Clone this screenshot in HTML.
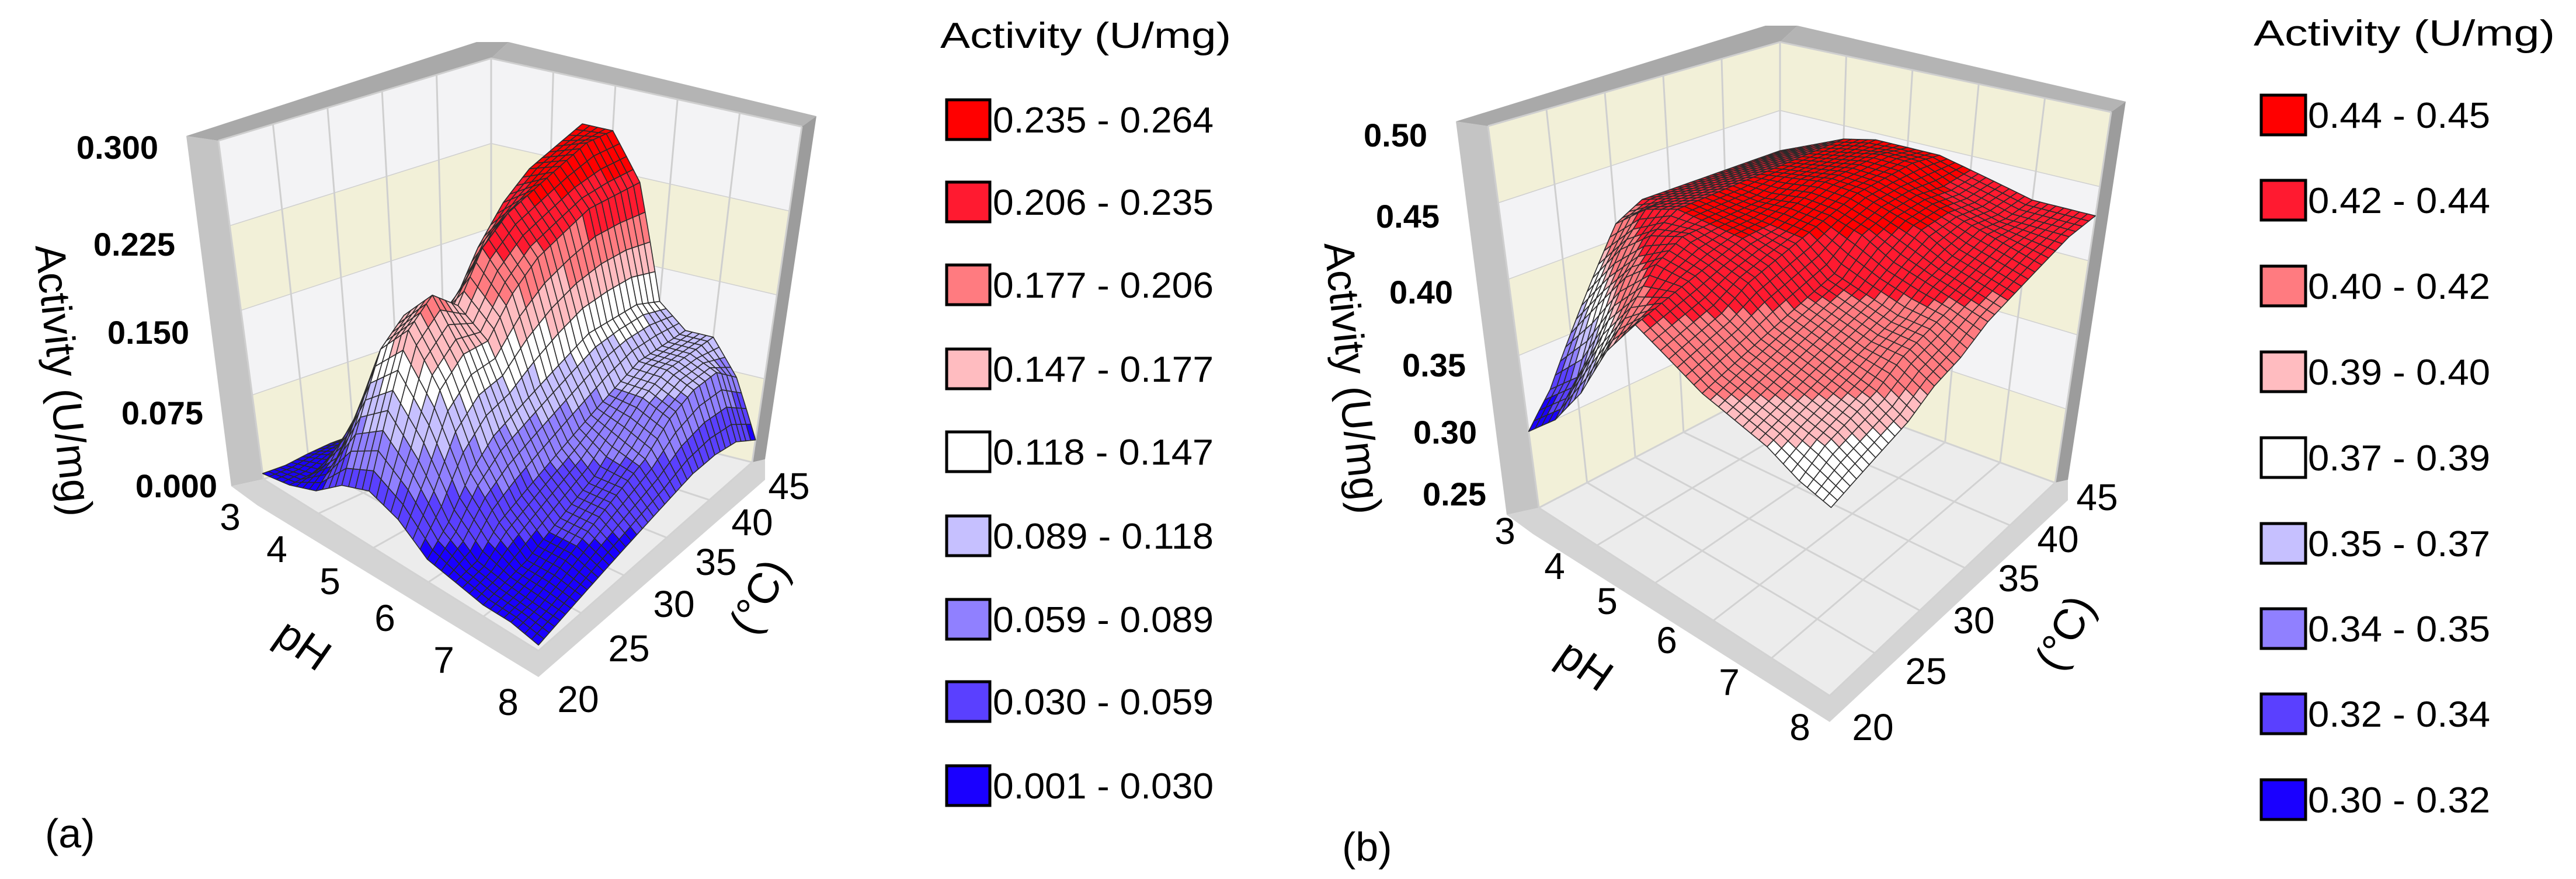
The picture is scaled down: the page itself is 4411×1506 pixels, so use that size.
<!DOCTYPE html>
<html><head><meta charset="utf-8"><style>
html,body{margin:0;padding:0;background:#fff;}
svg{display:block;font-family:"Liberation Sans",Arial,sans-serif;}
</style></head><body>
<svg id="chart" width="4411" height="1506" viewBox="0 0 4411 1506" xmlns="http://www.w3.org/2000/svg">
<rect width="4411" height="1506" fill="#fff"/>
<g id="panelA"></g>
<g id="panelB"></g>
<text x="77" y="1452" font-size="70">(a)</text>
<text x="2298" y="1475" font-size="70">(b)</text>
</svg>
<script>
// ---------- DATA ----------
const phValues = [3,3.5,4,4.5,5,5.5,6,6.5,7,7.5,8];
const tempValues = [20,22.5,25,27.5,30,32.5,35,37.5,40,42.5,45];
const phTicks = [3,4,5,6,7,8];
const tempTicks = [20,25,30,35,40,45];
// Panel a activity (rows = pH, columns = temperature)
const activityA = [
 [.005,.005,.008,.01,.01,.01,.01,.01,.01,.01,.01],
 [.01,.012,.02,.025,.02,.015,.015,.02,.025,.03,.03],
 [.02,.04,.07,.08,.06,.05,.06,.08,.10,.12,.13],
 [.04,.09,.14,.16,.14,.15,.19,.22,.24,.25,.26],
 [.05,.11,.17,.19,.17,.21,.23,.24,.25,.26,.26],
 [.04,.08,.13,.15,.15,.18,.20,.21,.22,.22,.22],
 [.02,.04,.07,.09,.10,.11,.12,.13,.13,.13,.12],
 [.015,.02,.04,.05,.06,.07,.08,.09,.10,.10,.10],
 [.01,.015,.02,.03,.04,.05,.07,.09,.10,.10,.10],
 [.01,.012,.02,.03,.04,.05,.06,.08,.09,.09,.07],
 [.005,.01,.015,.02,.025,.03,.035,.04,.04,.035,.02]
];
// Panel b activity
const activityB = [
 [.30,.32,.35,.38,.41,.42,.42,.42,.42,.42,.42],
 [.32,.34,.38,.41,.43,.43,.43,.43,.43,.43,.43],
 [.35,.38,.41,.43,.44,.44,.44,.44,.44,.44,.44],
 [.39,.41,.43,.44,.44,.44,.44,.445,.445,.445,.445],
 [.42,.425,.43,.435,.44,.44,.445,.45,.45,.45,.445],
 [.41,.415,.42,.43,.435,.44,.445,.45,.45,.45,.445],
 [.40,.405,.41,.415,.42,.425,.44,.445,.445,.44,.44],
 [.395,.40,.405,.41,.415,.42,.43,.44,.44,.435,.435],
 [.39,.395,.40,.405,.41,.415,.425,.43,.435,.43,.43],
 [.38,.39,.395,.40,.41,.415,.42,.425,.43,.43,.43],
 [.375,.38,.385,.39,.40,.405,.415,.42,.425,.43,.43]
];
const zTicksA = ["0.000","0.075","0.150","0.225","0.300"];
const zTicksB = ["0.25","0.30","0.35","0.40","0.45","0.50"];
const bandEdgesA = [0.001,0.030,0.059,0.089,0.118,0.147,0.177,0.206,0.235,0.264];
const bandEdgesB = [0.30,0.32,0.34,0.35,0.37,0.39,0.40,0.42,0.44,0.45];
const legendLabelsA = ["0.235 - 0.264","0.206 - 0.235","0.177 - 0.206","0.147 - 0.177","0.118 - 0.147","0.089 - 0.118","0.059 - 0.089","0.030 - 0.059","0.001 - 0.030"];
const legendLabelsB = ["0.44 - 0.45","0.42 - 0.44","0.40 - 0.42","0.39 - 0.40","0.37 - 0.39","0.35 - 0.37","0.34 - 0.35","0.32 - 0.34","0.30 - 0.32"];
const bandColors = ["#1a00ff","#5a40ff","#9080ff","#c6c0ff","#ffffff","#ffbcc0","#ff7b80","#ff1a30","#ff0000"];

const NS="http://www.w3.org/2000/svg";
function mk(tag,attrs,parent){const e=document.createElementNS(NS,tag);for(const k in attrs)e.setAttribute(k,attrs[k]);parent.appendChild(e);return e;}
function bil(a,b,c,d,u,v){
  return [a[0]*(1-u)*(1-v)+b[0]*u*(1-v)+c[0]*(1-u)*v+d[0]*u*v, a[1]*(1-u)*(1-v)+b[1]*u*(1-v)+c[1]*(1-u)*v+d[1]*u*v];
}
function makeProj(G){
  return function(ph,t,z){
    const u=(ph-3)/5, v=(t-20)/25, f=(z-G.zmin)/(G.zmax-G.zmin);
    const p=bil(G.L,G.F,G.B,G.R,u,v), w=bil(G.VL,G.VF,G.VB,G.VR,u,v);
    return [p[0]+f*w[0], p[1]+f*w[1]];
  };
}
function pts(a){return a.map(p=>p[0].toFixed(1)+","+p[1].toFixed(1)).join(" ");}
function colorFor(z,edges){
  for(let i=edges.length-2;i>=0;i--){ if(z>=edges[i]) return bandColors[i]; }
  return bandColors[0];
}

function drawPanel(g,G,data,edges,zTicks,legendLabels,L){
  const P=makeProj(G);
  const zr=G.zmax-G.zmin;
  const Lb=P(3,20,G.zmin),Lt=P(3,20,G.zmax),Bb=P(3,45,G.zmin),Bt=P(3,45,G.zmax),Rb=P(8,45,G.zmin),Rt=P(8,45,G.zmax),Fb=P(8,20,G.zmin);
  let s=mk("polygon",{points:pts([[Lt[0]-55,Lt[1]-8],Lt,Lb,[Lb[0]-55,Lb[1]+12]]),fill:"#c4c4c4"},g);
  
  
  s=mk("polygon",{points:pts([[Lt[0]-55,Lt[1]-8],[Bt[0]-25,Bt[1]-28],[Bt[0]+30,Bt[1]-28],Bt,Lt]),fill:"#a9a9a9"},g);
  
  
  s=mk("polygon",{points:pts([[Bt[0]+30,Bt[1]-28],[Rt[0]+25,Rt[1]-18],Rt,Bt]),fill:"#b4b4b4"},g);
  
  
  s=mk("polygon",{points:pts([[Rt[0]+25,Rt[1]-18],[Rb[0]+22,Rb[1]-5],Rb,Rt]),fill:"#9c9c9c"},g);
  
  
  s=mk("polygon",{points:pts([[Lb[0]-55,Lb[1]+12],Lb,Fb,Rb,[Rb[0]+22,Rb[1]-5],[Rb[0]+22,Rb[1]+30],[Fb[0],Fb[1]+45],[Lb[0]-10,Lb[1]+45]]),fill:"#d4d4d4"},g);
  
  
  const nb=zTicks.length-1;
  for(let i=0;i<nb;i++){
    const z0=G.zmin+zr*i/nb, z1=G.zmin+zr*(i+1)/nb;
    const col=(i%2===0)?"#f2f0d8":"#f3f3f5";
    let w=mk("polygon",{points:pts([P(3,20,z0),P(3,45,z0),P(3,45,z1),P(3,20,z1)]),fill:col},g);
    
    
    w=mk("polygon",{points:pts([P(3,45,z0),P(8,45,z0),P(8,45,z1),P(3,45,z1)]),fill:col},g);
    
    
    const a=P(3,20,z1),b=P(3,45,z1),c=P(8,45,z1);
    w=mk("polyline",{points:pts([a,b,c]),fill:"none",stroke:"#cfcfcf","stroke-width":3},g);
    
    
  }
  tempTicks.forEach(t=>{const l=mk("line",{x1:P(3,t,G.zmin)[0],y1:P(3,t,G.zmin)[1],x2:P(3,t,G.zmax)[0],y2:P(3,t,G.zmax)[1],stroke:"#cfcfcf","stroke-width":3},g);
    
    });
  phTicks.forEach(p=>{const l=mk("line",{x1:P(p,45,G.zmin)[0],y1:P(p,45,G.zmin)[1],x2:P(p,45,G.zmax)[0],y2:P(p,45,G.zmax)[1],stroke:"#cfcfcf","stroke-width":3},g);
    
    });
  let f=mk("polygon",{points:pts([Lb,Fb,Rb,Bb]),fill:"#ececec"},g);
  
  
  phTicks.forEach(p=>{const a=P(p,20,G.zmin),b=P(p,45,G.zmin);const l=mk("line",{x1:a[0],y1:a[1],x2:b[0],y2:b[1],stroke:"#d2d2d2","stroke-width":3},g);
    
    });
  tempTicks.forEach(t=>{const a=P(3,t,G.zmin),b=P(8,t,G.zmin);const l=mk("line",{x1:a[0],y1:a[1],x2:b[0],y2:b[1],stroke:"#d2d2d2","stroke-width":3},g);
    
    });
  const S=4, cells=[];
  const nP=phValues.length,nT=tempValues.length;
  function zAt(i,j,a,b){return data[i][j]*(1-a)*(1-b)+data[i+1][j]*a*(1-b)+data[i][j+1]*(1-a)*b+data[i+1][j+1]*a*b;}
  for(let i=0;i<nP-1;i++)for(let j=0;j<nT-1;j++)for(let si=0;si<S;si++)for(let sj=0;sj<S;sj++){
    const a0=si/S,a1=(si+1)/S,b0=sj/S,b1=(sj+1)/S;
    const ph0=phValues[i]+(phValues[i+1]-phValues[i])*a0, ph1=phValues[i]+(phValues[i+1]-phValues[i])*a1;
    const t0=tempValues[j]+(tempValues[j+1]-tempValues[j])*b0, t1=tempValues[j]+(tempValues[j+1]-tempValues[j])*b1;
    const z00=zAt(i,j,a0,b0),z10=zAt(i,j,a1,b0),z11=zAt(i,j,a1,b1),z01=zAt(i,j,a0,b1);
    const zm=(z00+z10+z11+z01)/4;
    const u=((ph0+ph1)/2-3)/5, v=((t0+t1)/2-20)/25;
    cells.push({key:u-v,poly:[P(ph0,t0,z00),P(ph1,t0,z10),P(ph1,t1,z11),P(ph0,t1,z01)],c:colorFor(zm,edges)});
  }
  cells.sort((a,b)=>a.key-b.key);
  const sg=mk("g",{},g);
  
  
  cells.forEach(c=>{const p=mk("polygon",{points:pts(c.poly),fill:c.c,stroke:"#2a2a2a","stroke-width":1.6,"stroke-linejoin":"round"},sg);
    
    });
  zTicks.forEach((lab,k)=>{const p=L.zPos[k];const t=mk("text",{x:p[0],y:p[1]+20,"font-size":56,"font-weight":"bold","text-anchor":"end"},g);t.textContent=lab;
    
    });
  phTicks.forEach((lab,k)=>{const p=L.phPos[k];const t=mk("text",{x:p[0],y:p[1]+23,"font-size":64,"text-anchor":"middle"},g);t.textContent=lab;
    
    });
  tempTicks.forEach((lab,k)=>{const p=L.tPos[k];const t=mk("text",{x:p[0],y:p[1]+23,"font-size":64,"text-anchor":"middle"},g);t.textContent=lab;
    
    });
  let t=mk("text",{x:0,y:0,"font-size":74,"text-anchor":"middle",transform:`translate(${L.ph[0]},${L.ph[1]}) rotate(35)`},g);t.textContent="pH";
  
  
  t=mk("text",{x:0,y:0,"font-size":74,"text-anchor":"middle",transform:`translate(${L.tc[0]},${L.tc[1]}) rotate(-62)`},g);t.textContent="(°C)";
  
  
  t=mk("text",{x:0,y:0,"font-size":72,"text-anchor":"middle",transform:`translate(${L.za[0]},${L.za[1]}) rotate(84)`},g);t.textContent="Activity (U/mg)";
  
  
  const lg=mk("g",{},g);
  
  
  t=mk("text",{x:L.legTitle[0],y:L.legTitle[1],"font-size":62,textLength:L.legTitle[2],lengthAdjust:"spacingAndGlyphs"},lg);t.textContent="Activity (U/mg)";
  
  
  legendLabels.forEach((lab,k)=>{
    const y=L.legRows[k];
    const r=mk("rect",{x:L.sw[0],y:y-34,width:L.sw[1],height:68,fill:bandColors[8-k],stroke:"#000","stroke-width":5},lg);
    
    
    const tx=mk("text",{x:L.legText[0],y:y+22,"font-size":62,textLength:L.legText[1],lengthAdjust:"spacingAndGlyphs"},lg);tx.textContent=lab;
    
    
  });
}

drawPanel(document.getElementById('panelA'),
 {L:[451,821],F:[922,1115],B:[841,680],R:[1288,792],VL:[-77,-580],VF:[5,-590],VB:[0,-580],VR:[85,-575],zmin:0,zmax:0.3},
 activityA,bandEdgesA,zTicksA,legendLabelsA,
 {zPos:[[372,832],[348,707],[324,569],[300,418],[271,252]],
  phPos:[[394,885],[474,940],[565,995],[659,1058],[760,1130],[870,1202]],
  tPos:[[990,1197],[1077,1110],[1154,1034],[1226,962],[1288,894],[1351,832]],
  ph:[505,1125],tc:[1322,1034],za:[85,654],
  legTitle:[1610,82,498],legRows:[205,346,488,632,774,918,1061,1202,1346],sw:[1621,74],legText:[1700,378]});
drawPanel(document.getElementById('panelB'),
 {L:[2635,870],F:[3133,1192],B:[3048,654],R:[3519,827],VL:[-87,-654],VF:[5,-645],VB:[0,-582],VR:[96,-635],zmin:0.25,zmax:0.5},
 activityB,bandEdgesB,zTicksB,legendLabelsB,
 {zPos:[[2545,846],[2529,740],[2510,625],[2488,500],[2465,370],[2444,231]],
  phPos:[[2577,909],[2662,969],[2752,1029],[2854,1096],[2961,1168],[3082,1245]],
  tPos:[[3207,1245],[3298,1149],[3380,1062],[3457,990],[3524,923],[3591,851]],
  ph:[2700,1160],tc:[3558,1096],za:[2292,650],
  legTitle:[3859,78,516],legRows:[197,343,490,637,784,931,1077,1223,1370],sw:[3872,76],legText:[3952,312]});
</script>
</body></html>
